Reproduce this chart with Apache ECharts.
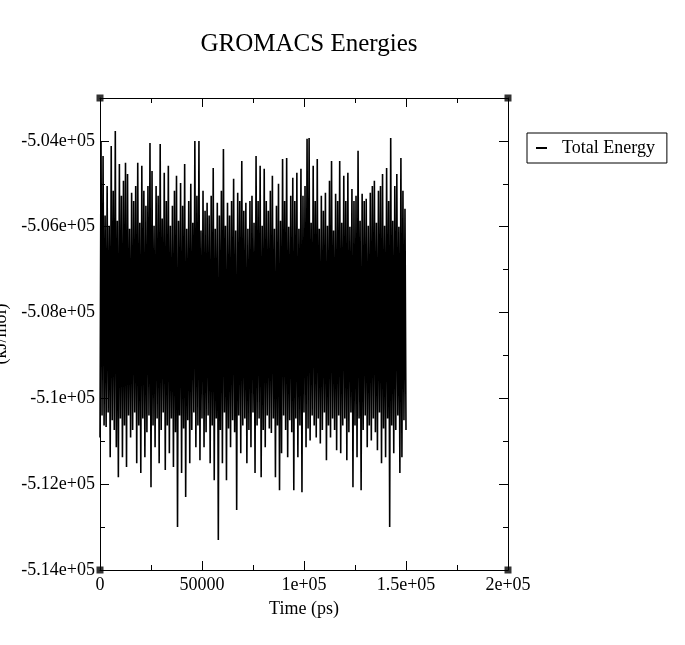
<!DOCTYPE html>
<html>
<head>
<meta charset="utf-8">
<script src="https://cdn.jsdelivr.net/npm/echarts@6/dist/echarts.min.js"></script>
<style>
html,body{margin:0;padding:0;background:#fff;}
#chart{width:685px;height:645px;}
</style>
</head>
<body>
<div id="chart"></div>
<script>
// ---- data (kJ/mol) ----
var seriesName = 'Total Energy';
var timeStep = 500; // ps between samples
// upper excursions (odd samples)
var highs = [
-504000,-504350,-505740,-505050,-505980,-504120,-505160,-503770,-505860,-504540,
-505280,-504930,-504510,-504770,-506050,-505210,-505400,-505050,-504510,-505910,
-504580,-505160,-505510,-505050,-504050,-504700,-505980,-505050,-505280,-504070,
-505810,-504740,-505400,-504580,-505980,-505510,-505160,-504810,-505860,-504980,
-505510,-504540,-506050,-505400,-505000,-505910,-504000,-505280,-504000,-506090,
-505160,-505630,-505440,-505740,-505280,-504630,-506050,-505440,-505740,-505160,
-504190,-505980,-505440,-505740,-505400,-504880,-506090,-505210,-505400,-504470,
-505630,-505440,-506050,-505400,-505280,-505910,-504350,-505400,-504580,-505980,
-504650,-505400,-505630,-505160,-504810,-506050,-505510,-505000,-505860,-504420,
-505400,-504400,-506000,-505280,-504860,-505400,-504740,-506050,-504650,-505280,
-505050,-503950,-503930,-505910,-504580,-505400,-504420,-506050,-505280,-505630,
-505210,-505980,-504930,-504470,-506090,-505230,-505400,-504470,-505910,-504810,
-505400,-504740,-506000,-505120,-505400,-505280,-504230,-505860,-505230,-505400,
-505350,-505980,-505210,-505050,-504930,-505910,-505160,-505050,-504770,-505980,
-504630,-505400,-503930,-505860,-505050,-504770,-506000,-504400,-505160,-505580
];
// lower excursions (even samples)
var lows = [
-510910,-510400,-510630,-510670,-510330,-511370,-510510,-510740,-511140,-511840,
-510470,-511370,-510630,-511600,-510400,-510910,-510740,-510330,-511510,-510630,
-511740,-510470,-511370,-510790,-510400,-512070,-510630,-511140,-510470,-511510,
-510740,-510330,-511670,-510630,-511280,-510470,-511600,-510790,-513000,-510400,
-511740,-510700,-512300,-510510,-511510,-510740,-510330,-511140,-510630,-511440,
-510470,-511140,-510790,-510400,-511510,-510630,-511910,-510470,-513300,-510740,
-511510,-510330,-511910,-510700,-511140,-510510,-510790,-512600,-510400,-511280,
-510630,-510470,-511510,-510740,-511140,-510330,-511740,-510630,-510470,-511840,
-510740,-511140,-510400,-510700,-510810,-510470,-511840,-510630,-512140,-511280,
-510400,-510740,-511370,-510510,-510790,-512140,-510470,-511370,-510630,-512190,
-510330,-511140,-510700,-510980,-510400,-510630,-510910,-510470,-511050,-510740,
-510330,-511440,-510630,-510910,-510470,-510740,-511210,-510400,-511280,-510630,
-510470,-511440,-510790,-510330,-512070,-510630,-511370,-510470,-512140,-510740,
-510400,-511140,-510630,-510980,-510470,-510790,-511210,-510330,-511510,-510700,
-511370,-510470,-513000,-510630,-511280,-510740,-510400,-511740,-511370,-510510,
-510740
];
var xTickLabels = ['0', '50000', '1e+05', '1.5e+05', '2e+05'];
var yTickLabels = ['-5.14e+05', '-5.12e+05', '-5.1e+05', '-5.08e+05', '-5.06e+05', '-5.04e+05'];
var xMin = 0, xMax = 200000, xInterval = 50000;
var yMin = -514000, yMax = -503000, yInterval = 2000;

// ---- build series table ----
var seriesData = [];
for (var k = 0; k < highs.length + lows.length; k++) {
  var v = (k % 2 === 0) ? lows[k / 2] : highs[(k - 1) / 2];
  seriesData.push([k * timeStep, v]);
}
var corners = [[xMin, yMin], [xMax, yMin], [xMin, yMax], [xMax, yMax]];

var FONT = 'Liberation Serif';
var chart = echarts.init(document.getElementById('chart'), null, {renderer: 'canvas'});

function axisCommon() {
  return {
    axisLine: {show: true, onZero: false, lineStyle: {color: '#000', width: 1}},
    axisTick: {show: true, inside: true, length: 9, lineStyle: {color: '#000', width: 1}},
    minorTick: {show: true, splitNumber: 2, length: 5, lineStyle: {color: '#000', width: 1}},
    splitLine: {show: false},
    minorSplitLine: {show: false}
  };
}

var xBottom = Object.assign(axisCommon(), {
  type: 'value', position: 'bottom', min: xMin, max: xMax, interval: xInterval,
  name: 'Time (ps)', nameLocation: 'middle', nameGap: 30,
  nameTextStyle: {fontFamily: FONT, fontSize: 18, color: '#000'},
  axisLabel: {fontFamily: FONT, fontSize: 18, color: '#000', margin: 6,
    formatter: function (v) { return xTickLabels[Math.round((v - xMin) / xInterval)]; }}
});
var xTop = Object.assign(axisCommon(), {
  type: 'value', position: 'top', min: xMin, max: xMax, interval: xInterval,
  axisLabel: {show: false}
});
var yLeft = Object.assign(axisCommon(), {
  type: 'value', position: 'left', min: yMin, max: yMax, interval: yInterval,
  name: '(kJ/mol)', nameLocation: 'middle', nameGap: 90, nameRotate: 90,
  nameTextStyle: {fontFamily: FONT, fontSize: 18, color: '#000'},
  axisLabel: {fontFamily: FONT, fontSize: 18, color: '#000', margin: 5, showMaxLabel: false,
    formatter: function (v) {
      var idx = (v - yMin) / yInterval;
      return (Math.abs(idx - Math.round(idx)) < 1e-6) ? (yTickLabels[Math.round(idx)] || '') : '';
    }}
});
var yRight = Object.assign(axisCommon(), {
  type: 'value', position: 'right', min: yMin, max: yMax, interval: yInterval,
  axisLabel: {show: false}
});

chart.setOption({
  backgroundColor: '#fff',
  animation: false,
  title: {
    text: 'GROMACS Energies', left: 304, top: 27, textAlign: 'center',
    textStyle: {fontFamily: FONT, fontSize: 25, fontWeight: 'normal', color: '#000'}
  },
  legend: {
    data: [seriesName], left: 527, top: 133, orient: 'vertical',
    borderColor: '#000', borderWidth: 1, padding: [6, 12, 6, 8],
    itemWidth: 11, itemHeight: 2, itemGap: 0,
    textStyle: {fontFamily: FONT, fontSize: 18, color: '#000', padding: [0, 0, 0, 10]}
  },
  grid: {left: 100, top: 98, right: 177, bottom: 75, containLabel: false, outerBoundsMode: 'none'},
  xAxis: [xBottom, xTop],
  yAxis: [yLeft, yRight],
  series: [
    {
      name: seriesName, type: 'line', data: seriesData, symbol: 'none',
      sampling: null, lineStyle: {color: '#000', width: 1.6}, itemStyle: {color: '#000'},
      xAxisIndex: 0, yAxisIndex: 0, z: 2
    },
    {
      name: 'frame', type: 'scatter', data: corners, symbol: 'rect', symbolSize: 7,
      itemStyle: {color: '#000'}, clip: false, silent: true, z: 5,
      xAxisIndex: 0, yAxisIndex: 0
    }
  ]
});
</script>
</body>
</html>
